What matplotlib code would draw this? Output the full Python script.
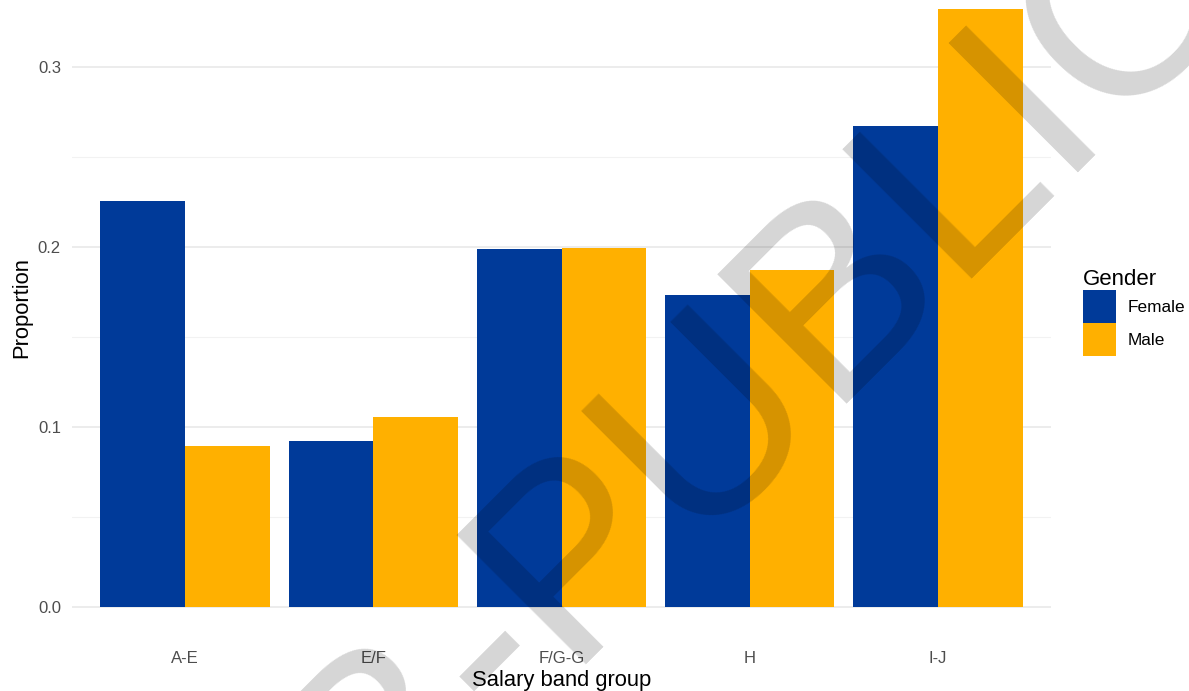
import matplotlib
matplotlib.use("Agg")
import matplotlib.pyplot as plt
from matplotlib.textpath import TextPath
from matplotlib.font_manager import FontProperties
import numpy as np

categories = ["A-E", "E/F", "F/G-G", "H", "I-J"]
female = [0.2256, 0.0925, 0.1989, 0.1733, 0.2671]
male = [0.0896, 0.1058, 0.1995, 0.1871, 0.3322]
series_names = ["Female", "Male"]
colors = ["#003A99", "#FFB000"]
watermark = "ECB-PUBLIC"

W, H = 1189, 691
DPI = 100
fig = plt.figure(figsize=(W / DPI, H / DPI), dpi=DPI)
fig.patch.set_facecolor("white")

def px(x0, y0, x1, y1):
    return [x0 / W, 1 - y1 / H, (x1 - x0) / W, (y1 - y0) / H]

ax = fig.add_axes(px(72, -21, 1051, 637))
x = np.arange(1, len(categories) + 1)
bw = 0.45
ax.bar(x - bw / 2, female, width=bw, color=colors[0], label=series_names[0], zorder=2)
ax.bar(x + bw / 2, male, width=bw, color=colors[1], label=series_names[1], zorder=2)

ymax = max(max(female), max(male))
ax.set_ylim(-0.05 * ymax, 1.05 * ymax)
ax.set_xlim(0.4, 5.6)
ax.set_yticks([0.0, 0.1, 0.2, 0.3])
ax.set_yticklabels(["0.0", "0.1", "0.2", "0.3"])
ax.set_yticks([0.05, 0.15, 0.25], minor=True)
ax.set_xticks(x)
ax.set_xticklabels(categories)
for s in ax.spines.values():
    s.set_visible(False)
ax.grid(axis="y", which="major", color="#EBEBEB", linewidth=1.3, zorder=0)
ax.grid(axis="y", which="minor", color="#F2F2F2", linewidth=0.8, zorder=0)
ax.grid(axis="x", visible=False)
ax.tick_params(axis="both", which="both", length=0, labelsize=12, labelcolor="#4D4D4D")
ax.tick_params(axis="x", pad=10)
ax.tick_params(axis="y", pad=8)
for lab in ax.get_xticklabels() + ax.get_yticklabels():
    lab.set_fontfamily("Liberation Sans")
ax.set_xlabel("Salary band group", fontsize=15.8, family="Liberation Sans", labelpad=3)
ax.set_ylabel("Proportion", fontsize=15.8, family="Liberation Sans", labelpad=4)
ax.set_facecolor("white")

leg = ax.legend(loc="upper left", bbox_to_anchor=(1076 / W, 1 - 262 / H),
                bbox_transform=fig.transFigure, frameon=False,
                title="Gender", title_fontsize=16,
                prop={"family": "Liberation Sans", "size": 12.4},
                handlelength=1.92, handleheight=2.57, labelspacing=0.0,
                handletextpad=0.7, borderaxespad=0)
leg.get_title().set_fontfamily("Liberation Sans")
leg._legend_box.align = "left"

# Watermark: place so that "PUBLIC" starts at the observed baseline point
wm_size = 191
wm_angle = 45
fp = FontProperties(family="Liberation Sans")
full_max = TextPath((0, 0), watermark, size=wm_size, prop=fp).vertices[:, 0].max()
tail_max = TextPath((0, 0), watermark.split("-")[-1], size=wm_size, prop=fp).vertices[:, 0].max()
prefix_px = (full_max - tail_max) * DPI / 72.0
p_start = (565.0, 664.0)  # image pixels, y down
a = np.deg2rad(wm_angle)
sx = p_start[0] - prefix_px * np.cos(a)
sy = p_start[1] + prefix_px * np.sin(a)
fig.text(sx / W, 1 - sy / H, watermark, rotation=wm_angle, fontsize=wm_size,
         family="Liberation Sans", color="black", alpha=0.165,
         ha="left", va="baseline", rotation_mode="anchor", zorder=10)

fig.savefig("out.png", dpi=DPI)
